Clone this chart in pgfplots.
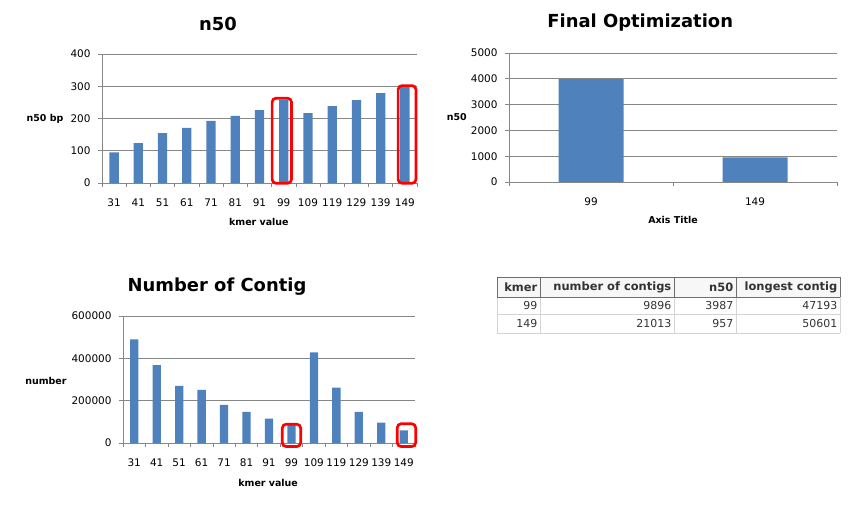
\documentclass[border=0pt]{standalone}
\usepackage{fontspec}
\setmainfont{DejaVu Sans}
\usepackage{pgfplots}
\pgfplotsset{compat=1.18}

\definecolor{barblue}{HTML}{4F81BD}
\definecolor{gridgray}{HTML}{878787}
\definecolor{tabdark}{HTML}{6E6E6E}
\definecolor{tablight}{HTML}{D4D4D4}
\definecolor{tabtext}{HTML}{333333}

% Excel-2007 look: grey grid, ticks between categories, horizontal y label
\pgfplotsset{
  excelbar/.style={
    scale only axis, anchor=south west, clip=false,
    ybar, bar width=#1,
    axis lines*=left, axis line style={-, draw=gridgray, line width=0.7bp},
    ymajorgrids, grid style={draw=gridgray, line width=0.6bp},
    tick align=outside, major tick length=4bp, minor tick length=4bp,
    tick style={draw=gridgray, line width=0.6bp},
    major x tick style={draw=none},
    xtick=data, ymin=0, enlargelimits=false,
    scaled y ticks=false,
    /pgf/number format/assume math mode=true,
    yticklabel style={font=\fontsize{10.5}{12}\selectfont, xshift=-4bp,
      /pgf/number format/fixed, /pgf/number format/1000 sep={}},
    xticklabel style={font=\fontsize{10.5}{12}\selectfont, yshift=-8bp},
    title style={font=\fontsize{18}{21}\selectfont\bfseries, anchor=center},
    every axis x label/.style={font=\fontsize{9.5}{11}\selectfont\bfseries, anchor=center},
    every axis y label/.style={font=\fontsize{9.5}{11}\selectfont\bfseries, anchor=center},
  },
}
\tikzset{hilite/.style={draw=red, line width=2.7bp, rounded corners=4bp}}

\begin{document}
\begin{tikzpicture}
\useasboundingbox (0bp,0bp) rectangle (859bp,511bp);

% ---- n50 per kmer
\begin{axis}[excelbar=9.3bp, at={(102bp,328bp)}, width=315bp, height=129bp,
  xmin=-0.5, xmax=12.5, ymax=400, ytick={0,100,...,400},
  minor xtick={-0.5,0.5,...,12.5},
  xticklabels={31,41,51,61,71,81,91,99,109,119,129,139,149},
  title={n50}, title style={at={(axis description cs:0.368,1.186)}},
  xlabel={kmer value}, xlabel style={at={(axis description cs:0.498,-0.30)}},
  ylabel={n50 bp}, ylabel style={at={(axis description cs:-0.181,0.5)}},
]
\addplot[fill=barblue, draw=none] coordinates {
  (0,95) (1,124) (2,155) (3,171) (4,193) (5,208) (6,226)
  (7,258) (8,217) (9,238) (10,257) (11,279) (12,300)};
\draw[hilite] (axis cs:6.52,-1) rectangle (axis cs:7.32,263);
\draw[hilite] (axis cs:11.72,-1) rectangle (axis cs:12.46,302);
\end{axis}

% ---- final optimization
\begin{axis}[excelbar=65bp, at={(509bp,329bp)}, width=328bp, height=129bp,
  xmin=-0.5, xmax=1.5, ymax=5000, ytick={0,1000,...,5000},
  minor xtick={-0.5,0.5,1.5},
  xticklabels={99,149},
  title={Final Optimization}, title style={at={(axis description cs:0.40,1.186)}},
  xlabel={Axis Title}, xlabel style={at={(axis description cs:0.5,-0.295)}},
  ylabel={n50}, ylabel style={at={(axis description cs:-0.159,0.5)}},
]
\addplot[fill=barblue, draw=none] coordinates {(0,3987) (1,957)};
\end{axis}

% ---- number of contigs per kmer
\begin{axis}[excelbar=8.3bp, at={(123bp,68bp)}, width=292bp, height=127bp,
  xmin=-0.5, xmax=12.5, ymax=600000, ytick={0,200000,400000,600000},
  minor xtick={-0.5,0.5,...,12.5},
  xticklabels={31,41,51,61,71,81,91,99,109,119,129,139,149},
  title={Number of Contig}, title style={at={(axis description cs:0.322,1.181)}},
  xlabel={kmer value}, xlabel style={at={(axis description cs:0.497,-0.315)}},
  ylabel={number}, ylabel style={at={(axis description cs:-0.264,0.488)}},
]
\addplot[fill=barblue, draw=none] coordinates {
  (0,490000) (1,368000) (2,270000) (3,251000) (4,180000) (5,147000) (6,115000)
  (7,88000) (8,428000) (9,262000) (10,147000) (11,96000) (12,60000)};
\draw[hilite] (axis cs:6.59,-17000) rectangle (axis cs:7.41,89000);
\draw[hilite] (axis cs:11.71,-17000) rectangle (axis cs:12.53,91000);
\end{axis}

% ---- summary table
\begin{scope}[x=1bp, y=1bp, font=\fontsize{11}{13}\selectfont]
\fill[gray!6] (497,234) rectangle (840,214);
\draw[tablight, line width=0.6bp]
  (497,197) -- (840,197) (497,178) -- (840,178)
  (497,214) -- (497,178) (540,214) -- (540,178) (674,214) -- (674,178)
  (736,214) -- (736,178) (840,214) -- (840,178);
\draw[tabdark, line width=0.8bp]
  (497,234) -- (840,234) (497,214) -- (840,214)
  (497,234) -- (497,214) (540,234) -- (540,214) (674,234) -- (674,214)
  (736,234) -- (736,214) (840,234) -- (840,214);
\foreach \r/\k/\c/\n/\l in {224/kmer/number of contigs/n50/longest contig}{
  \node[anchor=east, inner sep=1.5bp, text=tabtext, font=\fontsize{11.5}{13}\selectfont\bfseries] at (539,\r) {\k};
  \node[anchor=east, inner sep=1.5bp, text=tabtext, font=\fontsize{11.5}{13}\selectfont\bfseries] at (673,\r) {\c};
  \node[anchor=east, inner sep=1.5bp, text=tabtext, font=\fontsize{11.5}{13}\selectfont\bfseries] at (735,\r) {\n};
  \node[anchor=east, inner sep=1.5bp, text=tabtext, font=\fontsize{11.5}{13}\selectfont\bfseries] at (839,\r) {\l};
}
\foreach \r/\k/\c/\n/\l in {205.5/99/9896/3987/47193, 187.5/149/21013/957/50601}{
  \node[anchor=east, inner sep=1.5bp, text=tabtext] at (539,\r) {\k};
  \node[anchor=east, inner sep=1.5bp, text=tabtext] at (673,\r) {\c};
  \node[anchor=east, inner sep=1.5bp, text=tabtext] at (735,\r) {\n};
  \node[anchor=east, inner sep=1.5bp, text=tabtext] at (839,\r) {\l};
}
\end{scope}
\end{tikzpicture}
\end{document}
